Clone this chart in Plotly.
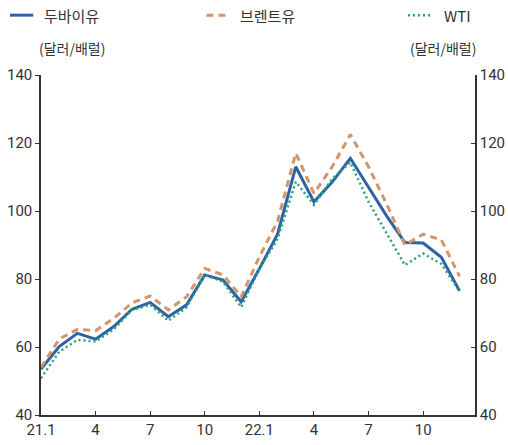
import plotly.graph_objects as go

months = list(range(24))
tick_vals = [0, 3, 6, 9, 12, 15, 18, 21]
tick_text = ["21.1", "4", "7", "10", "22.1", "4", "7", "10"]

dubai = [53.5, 60.1, 64.0, 62.3, 66.0, 71.1, 73.1, 68.9, 72.4, 81.2, 79.7, 73.3,
         83.0, 93.2, 113.0, 102.7, 108.5, 115.5, 107.0, 98.5, 90.7, 90.6, 86.4, 76.5]
brent = [54.0, 62.3, 65.2, 64.8, 68.4, 73.0, 75.0, 70.9, 74.8, 83.1, 81.2, 74.8,
         86.5, 97.0, 117.0, 105.2, 113.0, 122.5, 113.0, 102.0, 90.0, 93.2, 91.5, 80.8]
wti = [50.8, 58.6, 62.1, 61.6, 65.2, 70.9, 72.4, 67.7, 71.7, 81.2, 79.2, 71.7,
       83.0, 91.8, 108.6, 101.8, 109.5, 114.3, 102.7, 93.5, 84.1, 87.5, 84.4, 76.4]

names = ["두바이유", "브렌트유", "WTI"]
colors = ["#2c63a5", "#d4956a", "#27a07f"]
dashes = ["solid", "7px,5px", "2px,3px"]
widths = [3, 3, 2.5]

FONT = "Liberation Sans Narrow, Roboto, Noto Sans CJK KR, sans-serif"
KFONT = "Noto Sans CJK KR, sans-serif"
TXT = "#333333"

fig = go.Figure()
for series, nm, c, d, w in zip([dubai, brent, wti], names, colors, dashes, widths):
    fig.add_trace(go.Scatter(x=months, y=series, name=nm, mode="lines",
                             line=dict(color=c, width=w, dash=d)))
fig.add_trace(go.Scatter(x=months, y=dubai, yaxis="y2", mode="lines",
                         line=dict(width=0), opacity=0, showlegend=False,
                         hoverinfo="skip"))

axis_common = dict(showgrid=False, zeroline=False, showline=True,
                   linecolor=TXT, linewidth=1.5, ticks="outside",
                   ticklen=4, tickcolor=TXT, automargin=False,
                   tickfont=dict(family=FONT, size=15, color=TXT))

# manual legend (paper coordinates)
legend_pos = [(-0.0714, -0.018, 0.0023), (0.3813, 0.4355, 0.454), (0.8456, 0.9032, 0.924)]
shapes = []
annotations = []
for (x0, x1, xt), nm, c, d, w in zip(legend_pos, names, colors, dashes, widths):
    shapes.append(dict(type="line", xref="paper", yref="paper", x0=x0, x1=x1,
                       y0=1.176, y1=1.176, line=dict(color=c, width=w, dash=d)))
    annotations.append(dict(text=nm, xref="paper", yref="paper", x=xt, y=1.176,
                            xanchor="left", yanchor="middle", showarrow=False,
                            font=dict(family=KFONT, size=15, color=TXT)))
annotations += [
    dict(text="(달러/배럴)", xref="paper", yref="paper", x=-0.0092, y=1.079,
         xanchor="left", yanchor="middle", showarrow=False,
         font=dict(family=KFONT, size=14, color=TXT)),
    dict(text="(달러/배럴)", xref="paper", yref="paper", x=1.0069, y=1.079,
         xanchor="right", yanchor="middle", showarrow=False,
         font=dict(family=KFONT, size=14, color=TXT)),
]

fig.update_layout(
    width=508, height=445,
    margin=dict(l=41, r=33, t=75, b=30, autoexpand=False),
    paper_bgcolor="white", plot_bgcolor="white",
    showlegend=False,
    xaxis=dict(range=[0, 23.85], tickvals=tick_vals, ticktext=tick_text,
               **{**axis_common, "ticks": "inside"}),
    yaxis=dict(range=[40, 140], dtick=20, **axis_common),
    yaxis2=dict(range=[40, 140], dtick=20, overlaying="y", side="right",
                **{**axis_common, "ticks": "inside"}),
    shapes=shapes,
    annotations=annotations,
)

fig.write_html("out.html",
               config={"displayModeBar": False},
               post_script="document.body.style.margin='0';document.body.style.overflow='hidden';")
